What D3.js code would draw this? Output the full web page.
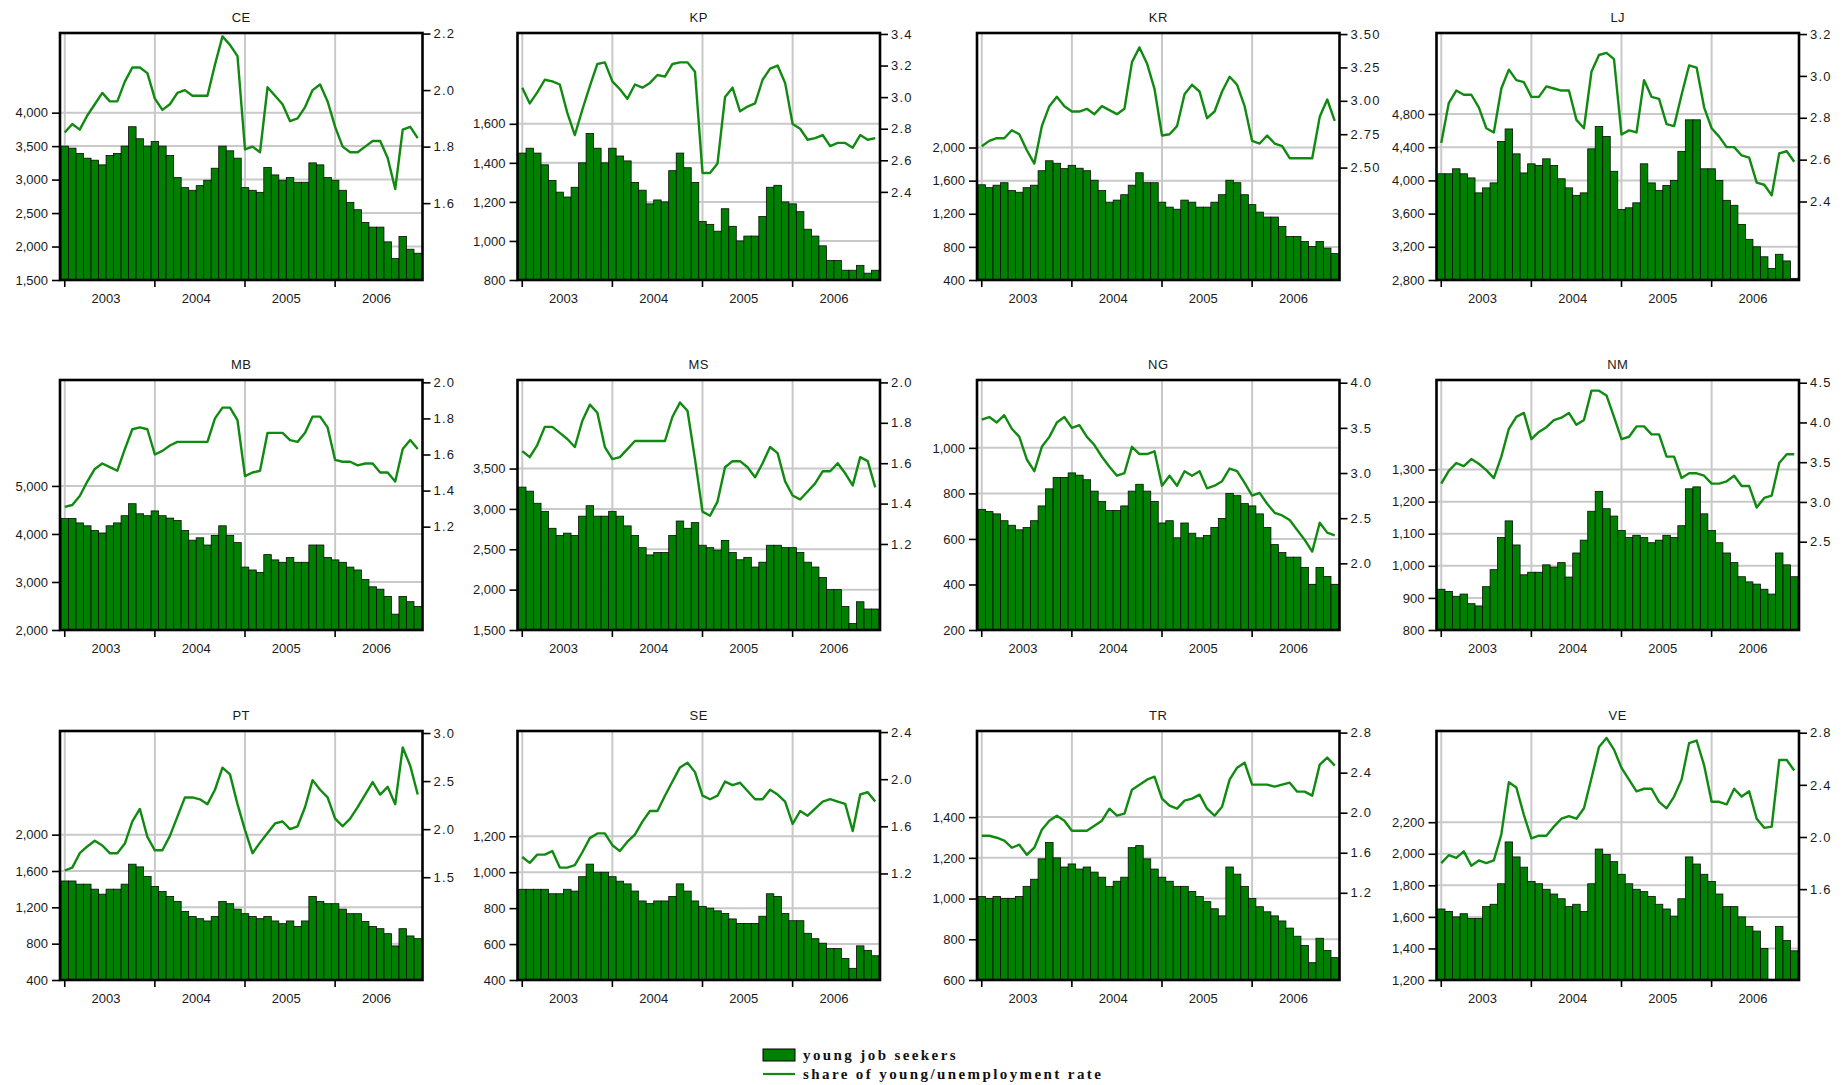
<!DOCTYPE html>
<html>
<head>
<meta charset="utf-8">
<script src="https://cdn.jsdelivr.net/npm/d3@7"></script>
<style>
  body { margin: 0; background: #fff; }
  svg { display: block; }
</style>
</head>
<body>
<svg id="chart" width="1842" height="1085"></svg>
<script>
// Monthly observations, Jan 2003 – Dec 2006
const years = ["2003", "2004", "2005", "2006"];
const monthCodes = ["01","02","03","04","05","06","07","08","09","10","11","12"];
const categories = years.flatMap(y => monthCodes.map(m => `${y}-${m}`));

const regions = ["CE", "KP", "KR", "LJ", "MB", "MS", "NG", "NM", "PT", "SE", "TR", "VE"];

// young job seekers (left axis)
const seekersCE = [3500,3470,3390,3320,3290,3220,3360,3390,3500,3790,3610,3500,3570,3500,3360,3030,2880,2840,2910,2990,3170,3500,3430,3320,2880,2840,2810,3180,3070,2990,3030,2960,2960,3250,3220,3030,2990,2840,2660,2550,2360,2290,2290,2070,1820,2150,1960,1900];
const seekersKP = [1450,1475,1450,1390,1310,1250,1225,1275,1400,1550,1475,1400,1475,1435,1410,1300,1260,1190,1210,1200,1360,1450,1375,1300,1100,1085,1050,1165,1075,1000,1025,1025,1125,1275,1285,1200,1190,1150,1060,1025,975,900,900,850,850,875,835,850];
const seekersKR = [1550,1515,1545,1575,1480,1460,1515,1545,1720,1840,1810,1745,1785,1750,1720,1605,1480,1340,1365,1430,1545,1695,1575,1575,1340,1280,1255,1365,1340,1280,1280,1340,1430,1605,1575,1430,1310,1220,1160,1160,1045,925,925,865,805,865,785,720];
const seekersLJ = [4080,4080,4140,4080,4030,3850,3910,3970,4470,4620,4320,4090,4200,4180,4260,4180,4020,3910,3820,3850,4380,4650,4530,4110,3650,3670,3730,4200,3970,3880,3940,4000,4350,4730,4730,4140,4140,4000,3760,3700,3470,3290,3200,3080,2940,3110,3030,2820];
const seekersMB = [4320,4320,4230,4170,4070,4020,4170,4230,4380,4630,4420,4380,4480,4380,4330,4280,4070,3870,3920,3770,3970,4170,3970,3820,3310,3250,3200,3570,3460,3410,3510,3410,3410,3770,3770,3510,3460,3410,3310,3250,3050,2900,2850,2700,2330,2700,2590,2490];
const seekersMS = [3270,3220,3070,2970,2760,2670,2700,2670,2910,3040,2910,2910,2970,2910,2790,2670,2520,2430,2460,2460,2670,2850,2760,2830,2550,2520,2490,2610,2460,2370,2400,2280,2340,2550,2550,2520,2520,2460,2340,2280,2150,2000,2000,1790,1580,1850,1760,1760];
const seekersNG = [730,720,710,680,660,640,650,680,745,820,870,870,890,880,860,810,765,725,725,745,810,840,810,765,670,680,605,670,625,605,615,650,690,800,790,755,745,710,650,575,540,520,520,475,400,475,435,400];
const seekersNM = [927,920,905,912,882,875,935,988,1088,1140,1065,972,980,980,1003,996,1010,965,1040,1080,1170,1232,1178,1155,1110,1088,1095,1088,1072,1080,1095,1088,1125,1240,1246,1162,1110,1072,1040,1010,966,950,943,927,912,1040,1003,966];
const seekersPT = [1490,1490,1455,1455,1400,1345,1400,1400,1455,1675,1645,1540,1430,1375,1320,1265,1155,1100,1075,1050,1100,1265,1240,1180,1130,1100,1075,1100,1050,1020,1050,990,1050,1320,1265,1240,1240,1180,1130,1130,1045,990,965,910,775,965,885,855];
const seekersSE = [905,905,905,905,880,880,905,895,975,1045,1000,1000,975,950,935,895,840,825,840,840,865,935,895,840,810,800,785,770,740,715,715,715,755,880,865,770,730,730,660,630,605,575,575,520,465,590,565,535];
const seekersTR = [1010,1000,1010,1000,1000,1010,1060,1095,1195,1275,1200,1155,1170,1145,1155,1130,1105,1060,1085,1105,1250,1260,1195,1145,1105,1085,1060,1060,1035,1010,985,950,915,1155,1120,1060,1000,960,935,915,890,855,815,770,685,805,745,710];
const seekersVE = [1650,1635,1600,1620,1590,1590,1665,1680,1810,2075,1980,1915,1825,1810,1775,1745,1715,1665,1680,1635,1810,2030,1995,1950,1870,1810,1775,1760,1730,1680,1650,1605,1715,1980,1935,1870,1825,1745,1665,1665,1600,1540,1510,1400,1203,1540,1450,1385];

// share of young / unemployment rate (right axis)
const shareCE = [1.85,1.88,1.86,1.91,1.95,1.99,1.96,1.96,2.03,2.08,2.08,2.06,1.97,1.93,1.95,1.99,2.00,1.98,1.98,1.98,2.09,2.19,2.16,2.12,1.79,1.80,1.78,2.01,1.98,1.95,1.89,1.90,1.94,2.00,2.02,1.96,1.87,1.80,1.78,1.78,1.80,1.82,1.82,1.76,1.65,1.86,1.87,1.83];
const shareKP = [3.06,2.96,3.03,3.11,3.10,3.08,2.90,2.76,2.92,3.07,3.21,3.22,3.10,3.05,2.99,3.08,3.06,3.09,3.14,3.13,3.21,3.22,3.22,3.16,2.52,2.52,2.58,3.00,3.06,2.91,2.94,2.96,3.11,3.18,3.20,3.09,2.83,2.80,2.73,2.74,2.76,2.69,2.71,2.71,2.68,2.76,2.73,2.74];
const shareKR = [2.66,2.70,2.72,2.72,2.78,2.75,2.63,2.53,2.81,2.96,3.03,2.96,2.92,2.92,2.94,2.90,2.96,2.93,2.90,2.94,3.29,3.40,3.28,3.09,2.74,2.75,2.81,3.05,3.12,3.07,2.87,2.92,3.07,3.18,3.12,2.96,2.70,2.68,2.74,2.68,2.66,2.57,2.57,2.57,2.57,2.88,3.01,2.85];
const shareLJ = [2.68,2.87,2.93,2.91,2.91,2.85,2.75,2.73,2.94,3.03,2.98,2.97,2.90,2.90,2.95,2.94,2.93,2.93,2.79,2.75,3.02,3.10,3.11,3.08,2.72,2.74,2.73,2.98,2.90,2.89,2.77,2.76,2.91,3.05,3.04,2.85,2.75,2.71,2.66,2.66,2.62,2.61,2.49,2.48,2.43,2.63,2.64,2.59];
const shareMB = [1.31,1.32,1.37,1.45,1.52,1.55,1.53,1.51,1.63,1.74,1.75,1.74,1.60,1.62,1.65,1.67,1.67,1.67,1.67,1.67,1.80,1.86,1.86,1.79,1.48,1.50,1.51,1.72,1.72,1.72,1.68,1.67,1.72,1.81,1.81,1.75,1.57,1.56,1.56,1.54,1.55,1.55,1.50,1.50,1.45,1.63,1.68,1.63];
const shareMS = [1.66,1.63,1.69,1.78,1.78,1.75,1.72,1.68,1.81,1.89,1.85,1.68,1.62,1.63,1.67,1.71,1.71,1.71,1.71,1.71,1.83,1.90,1.86,1.62,1.36,1.34,1.41,1.58,1.61,1.61,1.58,1.53,1.60,1.68,1.65,1.51,1.44,1.42,1.46,1.50,1.56,1.56,1.60,1.55,1.49,1.63,1.61,1.48];
const shareNG = [3.59,3.62,3.56,3.64,3.49,3.40,3.15,3.02,3.29,3.40,3.56,3.62,3.50,3.53,3.40,3.31,3.18,3.07,2.97,3.00,3.29,3.21,3.21,3.24,2.86,2.97,2.86,3.02,2.97,3.02,2.83,2.86,2.91,3.05,3.02,2.89,2.75,2.78,2.66,2.56,2.53,2.48,2.37,2.26,2.13,2.45,2.34,2.31];
const shareNM = [3.23,3.39,3.49,3.45,3.54,3.48,3.40,3.30,3.57,3.92,4.07,4.12,3.79,3.88,3.94,4.03,4.06,4.12,3.97,4.03,4.40,4.40,4.34,4.07,3.79,3.82,3.95,3.95,3.85,3.85,3.57,3.57,3.30,3.36,3.36,3.33,3.23,3.23,3.26,3.33,3.20,3.20,2.93,3.05,3.08,3.49,3.60,3.60];
const sharePT = [1.57,1.60,1.75,1.82,1.88,1.83,1.75,1.75,1.85,2.08,2.21,1.92,1.78,1.78,1.93,2.13,2.33,2.33,2.31,2.26,2.41,2.64,2.57,2.26,1.99,1.75,1.86,1.96,2.06,2.08,2.00,2.03,2.23,2.51,2.41,2.33,2.11,2.03,2.11,2.23,2.36,2.49,2.36,2.44,2.26,2.85,2.66,2.36];
const shareSE = [1.34,1.29,1.36,1.36,1.39,1.25,1.25,1.27,1.38,1.50,1.54,1.54,1.44,1.39,1.47,1.53,1.64,1.73,1.73,1.86,1.98,2.10,2.14,2.06,1.86,1.83,1.86,1.98,1.95,1.97,1.90,1.83,1.83,1.91,1.87,1.81,1.62,1.73,1.69,1.75,1.81,1.83,1.81,1.79,1.56,1.87,1.89,1.81];
const shareTR = [1.77,1.77,1.75,1.72,1.65,1.68,1.58,1.65,1.83,1.92,1.97,1.92,1.82,1.82,1.82,1.87,1.92,2.04,1.97,1.99,2.23,2.28,2.33,2.36,2.14,2.07,2.04,2.12,2.14,2.18,2.04,1.97,2.06,2.33,2.45,2.50,2.28,2.28,2.28,2.26,2.28,2.30,2.21,2.21,2.17,2.48,2.55,2.47];
const shareVE = [1.80,1.86,1.84,1.89,1.78,1.82,1.80,1.82,2.02,2.42,2.38,2.17,1.99,2.01,2.01,2.08,2.14,2.16,2.14,2.22,2.45,2.69,2.76,2.67,2.53,2.44,2.35,2.37,2.37,2.27,2.22,2.31,2.44,2.72,2.74,2.55,2.27,2.27,2.25,2.37,2.31,2.35,2.14,2.07,2.08,2.59,2.59,2.51];

// left axis: domain and tick labels
const leftDomainCE = [1500, 5190], leftTicksCE = [1500, 2000, 2500, 3000, 3500, 4000];
const leftDomainKP = [800, 2065],  leftTicksKP = [800, 1000, 1200, 1400, 1600];
const leftDomainKR = [400, 3383],  leftTicksKR = [400, 800, 1200, 1600, 2000];
const leftDomainLJ = [2800, 5776], leftTicksLJ = [2800, 3200, 3600, 4000, 4400, 4800];
const leftDomainMB = [2000, 7206], leftTicksMB = [2000, 3000, 4000, 5000];
const leftDomainMS = [1500, 4597], leftTicksMS = [1500, 2000, 2500, 3000, 3500];
const leftDomainNG = [200, 1298],  leftTicksNG = [200, 400, 600, 800, 1000];
const leftDomainNM = [800, 1579],  leftTicksNM = [800, 900, 1000, 1100, 1200, 1300];
const leftDomainPT = [400, 3141],  leftTicksPT = [400, 800, 1200, 1600, 2000];
const leftDomainSE = [400, 1786],  leftTicksSE = [400, 600, 800, 1000, 1200];
const leftDomainTR = [600, 1823],  leftTicksTR = [600, 800, 1000, 1200, 1400];
const leftDomainVE = [1200, 2778], leftTicksVE = [1200, 1400, 1600, 1800, 2000, 2200];

// right axis: domain and tick labels
const rightDomainCE = [1.328, 2.202], rightTicksCE = [1.6, 1.8, 2.0, 2.2];
const rightDomainKP = [1.842, 3.406], rightTicksKP = [2.4, 2.6, 2.8, 3.0, 3.2, 3.4];
const rightDomainKR = [1.658, 3.508], rightTicksKR = [2.50, 2.75, 3.00, 3.25, 3.50];
const rightDomainLJ = [2.025, 3.205], rightTicksLJ = [2.4, 2.6, 2.8, 3.0, 3.2];
const rightDomainMB = [0.627, 2.013], rightTicksMB = [1.2, 1.4, 1.6, 1.8, 2.0];
const rightDomainMS = [0.774, 2.012], rightTicksMS = [1.2, 1.4, 1.6, 1.8, 2.0];
const rightDomainNG = [1.262, 4.030], rightTicksNG = [2.0, 2.5, 3.0, 3.5, 4.0];
const rightDomainNM = [1.389, 4.534], rightTicksNM = [2.5, 3.0, 3.5, 4.0, 4.5];
const rightDomainPT = [0.431, 3.021], rightTicksPT = [1.5, 2.0, 2.5, 3.0];
const rightDomainSE = [0.296, 2.409], rightTicksSE = [1.2, 1.6, 2.0, 2.4];
const rightDomainTR = [0.329, 2.816], rightTicksTR = [1.2, 1.6, 2.0, 2.4, 2.8];
const rightDomainVE = [0.903, 2.813], rightTicksVE = [1.6, 2.0, 2.4, 2.8];

const legendLabels = ["young job seekers", "share of young/unemployment rate"];

const panels = [
  { name: "CE", seekers: seekersCE, share: shareCE, lDom: leftDomainCE, lTicks: leftTicksCE, rDom: rightDomainCE, rTicks: rightTicksCE, rFmt: ".1f" },
  { name: "KP", seekers: seekersKP, share: shareKP, lDom: leftDomainKP, lTicks: leftTicksKP, rDom: rightDomainKP, rTicks: rightTicksKP, rFmt: ".1f" },
  { name: "KR", seekers: seekersKR, share: shareKR, lDom: leftDomainKR, lTicks: leftTicksKR, rDom: rightDomainKR, rTicks: rightTicksKR, rFmt: ".2f" },
  { name: "LJ", seekers: seekersLJ, share: shareLJ, lDom: leftDomainLJ, lTicks: leftTicksLJ, rDom: rightDomainLJ, rTicks: rightTicksLJ, rFmt: ".1f" },
  { name: "MB", seekers: seekersMB, share: shareMB, lDom: leftDomainMB, lTicks: leftTicksMB, rDom: rightDomainMB, rTicks: rightTicksMB, rFmt: ".1f" },
  { name: "MS", seekers: seekersMS, share: shareMS, lDom: leftDomainMS, lTicks: leftTicksMS, rDom: rightDomainMS, rTicks: rightTicksMS, rFmt: ".1f" },
  { name: "NG", seekers: seekersNG, share: shareNG, lDom: leftDomainNG, lTicks: leftTicksNG, rDom: rightDomainNG, rTicks: rightTicksNG, rFmt: ".1f" },
  { name: "NM", seekers: seekersNM, share: shareNM, lDom: leftDomainNM, lTicks: leftTicksNM, rDom: rightDomainNM, rTicks: rightTicksNM, rFmt: ".1f" },
  { name: "PT", seekers: seekersPT, share: sharePT, lDom: leftDomainPT, lTicks: leftTicksPT, rDom: rightDomainPT, rTicks: rightTicksPT, rFmt: ".1f" },
  { name: "SE", seekers: seekersSE, share: shareSE, lDom: leftDomainSE, lTicks: leftTicksSE, rDom: rightDomainSE, rTicks: rightTicksSE, rFmt: ".1f" },
  { name: "TR", seekers: seekersTR, share: shareTR, lDom: leftDomainTR, lTicks: leftTicksTR, rDom: rightDomainTR, rTicks: rightTicksTR, rFmt: ".1f" },
  { name: "VE", seekers: seekersVE, share: shareVE, lDom: leftDomainVE, lTicks: leftTicksVE, rDom: rightDomainVE, rTicks: rightTicksVE, rFmt: ".1f" }
];

// grid of plot frames
const colX = [60, 517.5, 977, 1436.5];
const rowY = [33, 380, 731];
const rowH = [247, 250, 249];
const frameW = 362.5;

const BAR_FILL = "#008000";
const LINE_COL = "#108a10";
const GRID_COL = "#c9c9c9";
const FONT = "'Liberation Sans', Arial, sans-serif";

const svg = d3.select("#chart");

panels.forEach((p, idx) => {
  const col = idx % 4, row = Math.floor(idx / 4);
  const W = frameW, H = rowH[row];
  const g = svg.append("g").attr("transform", `translate(${colX[col]},${rowY[row]})`);

  const x = d3.scaleBand().domain(categories).range([1, W - 1]).padding(0);
  const bw = x.bandwidth();
  const yL = d3.scaleLinear().domain(p.lDom).range([H, 0]);
  const yR = d3.scaleLinear().domain(p.rDom).range([H, 0]);
  const janCats = categories.filter(c => c.endsWith("-01"));

  // gridlines
  g.append("g").selectAll("line").data(p.lTicks).join("line")
    .attr("x1", 0).attr("x2", W)
    .attr("y1", d => yL(d)).attr("y2", d => yL(d))
    .attr("stroke", GRID_COL).attr("stroke-width", 2);
  g.append("g").selectAll("line").data(janCats).join("line")
    .attr("x1", d => x(d) + bw / 2).attr("x2", d => x(d) + bw / 2)
    .attr("y1", 0).attr("y2", H)
    .attr("stroke", GRID_COL).attr("stroke-width", 2);

  // bars
  g.append("g").selectAll("rect").data(p.seekers).join("rect")
    .attr("x", (d, i) => x(categories[i]))
    .attr("y", d => yL(d))
    .attr("width", bw)
    .attr("height", d => H - yL(d))
    .attr("fill", BAR_FILL)
    .attr("stroke", "#0b0b0b")
    .attr("stroke-width", 0.8);

  // line
  const line = d3.line()
    .x((d, i) => x(categories[i]) + bw / 2)
    .y(d => yR(d));
  g.append("path").datum(p.share)
    .attr("d", line)
    .attr("fill", "none")
    .attr("stroke", LINE_COL)
    .attr("stroke-width", 2.4)
    .attr("stroke-linejoin", "round");

  // frame
  g.append("rect").attr("x", 0).attr("y", 0).attr("width", W).attr("height", H)
    .attr("fill", "none").attr("stroke", "#000").attr("stroke-width", 2.6);

  // left axis
  const la = g.append("g").call(
    d3.axisLeft(yL).tickValues(p.lTicks).tickSize(8).tickPadding(4).tickFormat(d3.format(","))
  );
  // right axis
  const ra = g.append("g").attr("transform", `translate(${W},0)`).call(
    d3.axisRight(yR).tickValues(p.rTicks).tickSize(8).tickPadding(3).tickFormat(d3.format(p.rFmt))
  );
  // bottom axis: ticks at January of each year
  const ba = g.append("g").attr("transform", `translate(0,${H})`).call(
    d3.axisBottom(x).tickValues(janCats).tickSize(7).tickFormat("")
  );
  [la, ra, ba].forEach(a => {
    a.select(".domain").remove();
    a.selectAll(".tick line").attr("stroke", "#000").attr("stroke-width", 1.6);
    a.selectAll(".tick text").attr("fill", "#1a1a1a")
      .style("font-family", FONT).style("font-size", "13px");
  });
  ra.selectAll(".tick text").style("letter-spacing", "1.2px");

  // year labels centred in each year
  g.append("g").selectAll("text").data(years).join("text")
    .attr("x", yr => (x(`${yr}-01`) + x(`${yr}-12`) + bw) / 2)
    .attr("y", H + 23)
    .attr("text-anchor", "middle")
    .attr("fill", "#1a1a1a")
    .style("font-family", FONT).style("font-size", "13px")
    .text(yr => yr);

  // title
  g.append("text")
    .attr("x", W / 2).attr("y", -11)
    .attr("text-anchor", "middle")
    .attr("fill", "#1a1a1a")
    .style("font-family", FONT).style("font-size", "13px")
    .style("letter-spacing", "0.5px")
    .text(p.name);
});

// legend
const lg = svg.append("g").attr("transform", "translate(763,1049)");
lg.append("rect").attr("x", 0).attr("y", 0).attr("width", 32).attr("height", 12)
  .attr("fill", BAR_FILL).attr("stroke", "#000").attr("stroke-width", 1);
lg.append("line").attr("x1", 0).attr("x2", 32).attr("y1", 25).attr("y2", 25)
  .attr("stroke", LINE_COL).attr("stroke-width", 2.2);
lg.selectAll("text.lab").data(legendLabels).join("text")
  .attr("class", "lab")
  .attr("x", 40).attr("y", (d, i) => 11 + i * 19)
  .attr("fill", "#111")
  .style("font-family", "'Liberation Serif', 'Times New Roman', serif")
  .style("font-weight", "bold")
  .style("font-size", "15px")
  .style("letter-spacing", "2.4px")
  .text(d => d);
</script>
</body>
</html>
